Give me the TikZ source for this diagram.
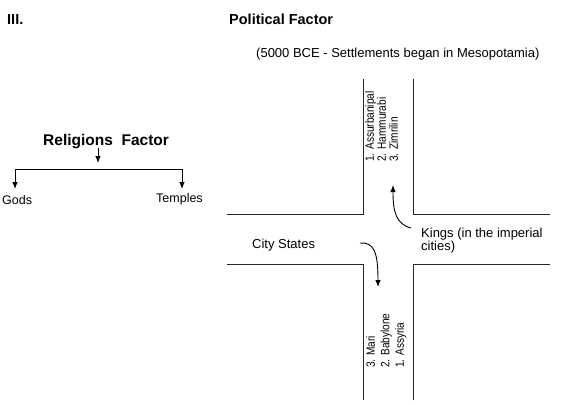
\documentclass[tikz,border=0pt]{standalone}
\usepackage{fontspec}
\setmainfont{Liberation Sans}
\newfontfamily\narrowfont[FakeStretch=0.84]{Liberation Sans}
\usetikzlibrary{arrows.meta}
\begin{document}
\begin{tikzpicture}[x=1pt,y=-1pt,
  road/.style={line width=1pt,black!85},
  arr/.style={line width=0.9pt,-{Latex[length=7pt,width=5.5pt]}},
  txt/.style={inner sep=0pt,anchor=base west,font=\fontsize{13}{14}\selectfont},
  head/.style={inner sep=0pt,anchor=base west,font=\fontsize{14.5}{16}\selectfont\bfseries},
  lst/.style={inner sep=0pt,rotate=90,anchor=north west,align=left}]
\useasboundingbox (0,0) rectangle (566,405);
% headings
\node[head] (roman) at (7,24) {III.};
\node[head] (pol) at (229,24) {Political Factor};
\node[txt] (date) at (256,57) {(5000 BCE - Settlements began in Mesopotamia)};
% religion tree
\node[head,font=\fontsize{15.5}{17}\selectfont\bfseries] (rel) at (43,145) {Religions~~Factor};
\node[txt,font=\fontsize{12.5}{14}\selectfont] (gods) at (2,204) {Gods};
\node[txt,font=\fontsize{12.5}{14}\selectfont] (temples) at (156,202) {Temples};
\coordinate (rs) at (98,148);
\coordinate (re) at (98,163);
\coordinate (bl) at (15,169);
\coordinate (br) at (182,169);
\coordinate (gl) at (15,189);
\coordinate (gr) at (182,189);
\draw[arr] (rs) -- (re);
\draw[arr] (gl |- bl) -- (gl);
\draw[line width=0.9pt] (bl) -- (br);
\draw[arr] (br) -- (gr);
% crossroads
\draw[road] (227,214) -- (363,214) -- (363,79);
\draw[road] (413,79) -- (413,214) -- (550,214);
\draw[road] (227,264) -- (363,264) -- (363,400);
\draw[road] (413,400) -- (413,264) -- (550,264);
% lists
\node[lst,font=\narrowfont\fontsize{12}{12}\selectfont] (kings) at (365,162) {1. Assurbanipal\\2. Hammurabi\\3. Zimrilin};
\node[lst,font=\narrowfont\fontsize{12}{14.5}\selectfont] (cities) at (366,368) {3. Mari\\2. Babylone\\1. Assyria};
% labels
\node[txt] (kl) at (421,237) {Kings (in the imperial};
\node[txt] (kl2) at (421,250) {cities)};
\node[txt] (cs) at (252,248) {City States};
% curved arrows
\coordinate (k0) at (411,228);
\coordinate (k1) at (393,185);
\draw[arr] (k0) .. controls (396,224) and (393,212) .. (k1);
\coordinate (c0) at (360,243);
\coordinate (c1) at (378,287);
\draw[arr] (c0) .. controls (374,242) and (378,252) .. (c1);
\end{tikzpicture}
\end{document}
